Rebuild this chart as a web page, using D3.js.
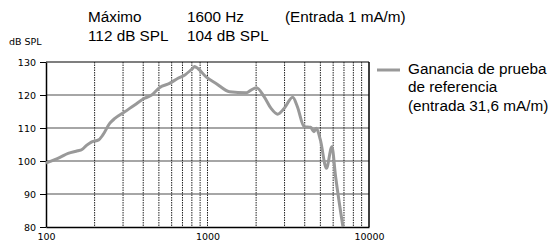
<!DOCTYPE html>
<html lang="es">
<head>
<meta charset="UTF-8">
<script src="https://d3js.org/d3.v7.min.js"></script>
<style>
  body { margin: 0; background: #fff; }
  svg { display: block; }
</style>
</head>
<body>
<div id="chart"></div>
<script>
// frequency response data (Hz, dB SPL)
const freqs = [100, 122, 137, 157, 167, 179, 192, 212, 225, 248, 267, 307, 354, 408, 451, 506, 582, 653, 720, 810, 831, 852, 980, 1130, 1370, 1740, 1860, 2010, 2240, 2470, 2720, 2990, 3370, 3600, 3970, 4350, 4560, 4720, 5000, 5450, 5890, 6210, 6900];
const gain = [99.4, 101.1, 102.3, 103.1, 103.5, 104.8, 105.8, 106.4, 107.9, 111.4, 112.9, 114.9, 117, 119, 120, 122.3, 123.5, 125, 126, 128.1, 128.6, 128.4, 125.5, 123.5, 121, 120.7, 121.5, 122.2, 119.5, 116, 114.2, 116, 119.3, 116.5, 110.4, 110.2, 108.9, 109.9, 106.4, 97.8, 104.3, 95.3, 80];
const yTicks = [80, 90, 100, 110, 120, 130];
const xLabels = [100, 1000, 10000];
const xGrid = [200, 300, 400, 500, 600, 700, 800, 900, 1000, 2000, 3000, 4000, 5000, 6000, 7000, 8000, 9000];
const headerRows = [["Máximo", "1600 Hz", "(Entrada 1 mA/m)"], ["112 dB SPL", "104 dB SPL"]];
const legendLines = ["Ganancia de prueba", "de referencia", "(entrada 31,6 mA/m)"];

const W = 555, H = 243;
const margin = {top: 62, right: 186, bottom: 16, left: 46};
const sans = "Liberation Sans, Arial, sans-serif";
const small = "DejaVu Sans, Verdana, sans-serif";

const svg = d3.select("#chart").append("svg")
  .attr("width", W).attr("height", H);

const x = d3.scaleLog().domain([100, 10000]).range([margin.left, W - margin.right]);
const y = d3.scaleLinear().domain([80, 130]).range([H - margin.bottom, margin.top]);

// horizontal grid
svg.append("g").selectAll("line").data(yTicks.slice(1)).join("line")
  .attr("x1", x(100)).attr("x2", x(10000))
  .attr("y1", d => y(d)).attr("y2", d => y(d))
  .attr("stroke", d => d === 130 ? "#555" : "#888")
  .attr("stroke-width", 1.6);

// vertical dotted grid
svg.append("g").selectAll("line").data(xGrid).join("line")
  .attr("x1", d => x(d)).attr("x2", d => x(d))
  .attr("y1", y(130)).attr("y2", y(80))
  .attr("stroke", "#222")
  .attr("stroke-width", 1)
  .attr("stroke-dasharray", "1.5,1");

// right frame
svg.append("line").attr("x1", x(10000)).attr("x2", x(10000))
  .attr("y1", y(130)).attr("y2", y(80)).attr("stroke", "#000").attr("stroke-width", 1.5);

// y axis
const yAxis = svg.append("g")
  .attr("transform", `translate(${margin.left},0)`)
  .call(d3.axisLeft(y).tickValues(yTicks).tickSize(6).tickPadding(4).tickSizeOuter(0));
yAxis.select(".domain").attr("stroke", "#000").attr("stroke-width", 1.5);
yAxis.selectAll(".tick line").attr("stroke", "#000");
yAxis.selectAll("text").attr("font-family", small)
  .attr("font-size", 9.5).attr("fill", "#000");

// x axis
const xAxis = svg.append("g")
  .attr("transform", `translate(0,${y(80)})`)
  .call(d3.axisBottom(x).tickValues(xLabels).tickFormat(d3.format("d")).tickSize(0).tickPadding(6).tickSizeOuter(0));
xAxis.select(".domain").attr("stroke", "#000").attr("stroke-width", 1.5);
xAxis.selectAll("text").attr("font-family", small)
  .attr("font-size", 9.5).attr("fill", "#000");

// curve
svg.append("path")
  .datum(freqs.map((f, i) => [f, gain[i]]))
  .attr("fill", "none")
  .attr("stroke", "#999")
  .attr("stroke-width", 3)
  .attr("stroke-linejoin", "round")
  .attr("d", d3.line().x(d => x(d[0])).y(d => y(d[1])).curve(d3.curveMonotoneX));

// unit label
svg.append("text").attr("x", 9).attr("y", 45)
  .attr("font-family", small).attr("font-size", 9.5)
  .text("dB SPL");

// header text
const colX = [88, 187, 285];
headerRows.forEach((row, r) => {
  row.forEach((t, c) => {
    svg.append("text").attr("x", colX[c]).attr("y", 22 + r * 18.5)
      .attr("font-family", sans).attr("font-size", 15.3)
      .text(t);
  });
});

// legend
svg.append("line").attr("x1", 377).attr("x2", 400).attr("y1", 70).attr("y2", 70)
  .attr("stroke", "#999").attr("stroke-width", 3);
legendLines.forEach((t, i) => {
  svg.append("text").attr("x", 408).attr("y", 74 + i * 18.3)
    .attr("font-family", sans).attr("font-size", 15.3)
    .text(t);
});
</script>
</body>
</html>
